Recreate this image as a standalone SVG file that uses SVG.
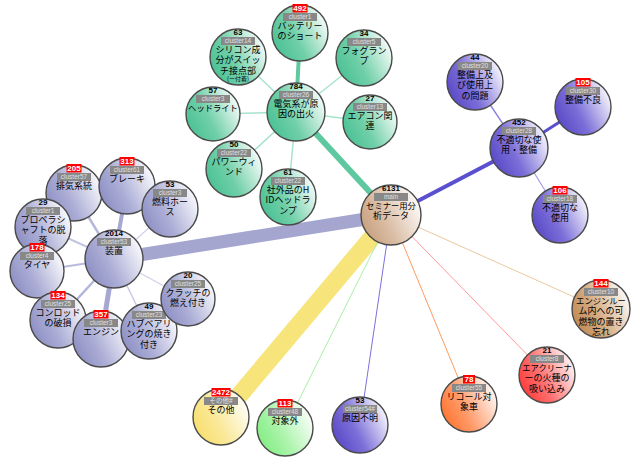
<svg xmlns="http://www.w3.org/2000/svg" width="632" height="461" viewBox="0 0 632 461">
<style>
.nd{stroke:#4a4a4a;stroke-width:1.4}
.cnt{font:bold 8px "Liberation Sans",Arial,sans-serif;text-anchor:middle;fill:#000}
.cw{fill:#fff}
.rb{fill:#f00}
.cb{fill:#888}
.ct{font:6.5px "Liberation Sans","Noto Sans CJK JP",sans-serif;text-anchor:middle;fill:#e0e0e0}
.lb{font:9px "Noto Sans CJK JP",sans-serif;text-anchor:middle;fill:#000}
.n6{font-size:8.3px}
.sm{font-size:6px}
</style>
<defs>
<linearGradient id="gG" x1="0" y1="0.75" x2="1" y2="0.25"><stop offset="0" stop-color="#48c093"/><stop offset="0.4" stop-color="#6fcfa8"/><stop offset="1" stop-color="#ffffff"/></linearGradient>
<linearGradient id="gL" x1="0" y1="0.75" x2="1" y2="0.25"><stop offset="0" stop-color="#8a8cc2"/><stop offset="0.4" stop-color="#acaed6"/><stop offset="1" stop-color="#ffffff"/></linearGradient>
<linearGradient id="gP" x1="0" y1="0.75" x2="1" y2="0.25"><stop offset="0" stop-color="#5646c6"/><stop offset="0.4" stop-color="#7c6fd8"/><stop offset="1" stop-color="#ffffff"/></linearGradient>
<linearGradient id="gM" x1="0" y1="0.75" x2="1" y2="0.25"><stop offset="0" stop-color="#c69e7c"/><stop offset="0.4" stop-color="#dbbea6"/><stop offset="1" stop-color="#ffffff"/></linearGradient>
<linearGradient id="gY" x1="0" y1="0.75" x2="1" y2="0.25"><stop offset="0" stop-color="#f8df6c"/><stop offset="0.4" stop-color="#fae896"/><stop offset="1" stop-color="#ffffff"/></linearGradient>
<linearGradient id="gLG" x1="0" y1="0.75" x2="1" y2="0.25"><stop offset="0" stop-color="#80ed80"/><stop offset="0.4" stop-color="#aaf3aa"/><stop offset="1" stop-color="#ffffff"/></linearGradient>
<linearGradient id="gO" x1="0" y1="0.75" x2="1" y2="0.25"><stop offset="0" stop-color="#ff722c"/><stop offset="0.4" stop-color="#ff9c6c"/><stop offset="1" stop-color="#ffffff"/></linearGradient>
<linearGradient id="gT" x1="0" y1="0.75" x2="1" y2="0.25"><stop offset="0" stop-color="#be8850"/><stop offset="0.4" stop-color="#d4aa80"/><stop offset="1" stop-color="#ffffff"/></linearGradient>
<linearGradient id="gR" x1="0" y1="0.75" x2="1" y2="0.25"><stop offset="0" stop-color="#ff3636"/><stop offset="0.4" stop-color="#ff7070"/><stop offset="1" stop-color="#ffffff"/></linearGradient>
</defs>
<rect width="632" height="461" fill="#fff"/>
<g id="connectors" stroke-linecap="butt">
<line x1="391" y1="215" x2="114" y2="259" stroke="#a4a6cf" stroke-width="13"/>
<line x1="391" y1="215" x2="221" y2="417" stroke="#f7e57c" stroke-width="18"/>
<line x1="391" y1="215" x2="296" y2="112" stroke="#5ec9a0" stroke-width="6"/>
<line x1="391" y1="215" x2="519" y2="148" stroke="#5a4fcf" stroke-width="4"/>
<line x1="391" y1="215" x2="285" y2="428" stroke="#a8f0a8" stroke-width="1"/>
<line x1="391" y1="215" x2="360" y2="425" stroke="#7a70e0" stroke-width="1"/>
<line x1="391" y1="215" x2="469" y2="404" stroke="#ff9a60" stroke-width="1"/>
<line x1="391" y1="215" x2="547" y2="375" stroke="#ff9a9a" stroke-width="1"/>
<line x1="391" y1="215" x2="601" y2="309" stroke="#ebc8a0" stroke-width="1"/>
<line x1="296" y1="112" x2="300" y2="33" stroke="#5fc9a0" stroke-width="4"/>
<line x1="296" y1="112" x2="238" y2="57" stroke="#a8e3cc" stroke-width="1.5"/>
<line x1="296" y1="112" x2="364" y2="58" stroke="#a8e3cc" stroke-width="1.5"/>
<line x1="296" y1="112" x2="213" y2="114" stroke="#a8e3cc" stroke-width="1.5"/>
<line x1="296" y1="112" x2="370" y2="122" stroke="#a8e3cc" stroke-width="1.5"/>
<line x1="296" y1="112" x2="234" y2="169" stroke="#a8e3cc" stroke-width="1.5"/>
<line x1="296" y1="112" x2="288" y2="197" stroke="#a8e3cc" stroke-width="1.5"/>
<line x1="114" y1="259" x2="127" y2="186" stroke="#a6a8d2" stroke-width="4"/>
<line x1="114" y1="259" x2="74" y2="193" stroke="#b5b7db" stroke-width="2.5"/>
<line x1="114" y1="259" x2="170" y2="209" stroke="#cfd0ea" stroke-width="1.2"/>
<line x1="114" y1="259" x2="43" y2="227" stroke="#c2c3e3" stroke-width="2"/>
<line x1="114" y1="259" x2="37" y2="271" stroke="#b9bbde" stroke-width="2"/>
<line x1="114" y1="259" x2="58" y2="320" stroke="#b3b5da" stroke-width="2.5"/>
<line x1="114" y1="259" x2="101" y2="339" stroke="#a6a8d2" stroke-width="5"/>
<line x1="114" y1="259" x2="149" y2="331" stroke="#c8c9e6" stroke-width="1.5"/>
<line x1="114" y1="259" x2="188" y2="299" stroke="#cfd0ea" stroke-width="1.2"/>
<line x1="519" y1="148" x2="583" y2="107" stroke="#5a4fcf" stroke-width="3"/>
<line x1="519" y1="148" x2="475" y2="82" stroke="#8b82e0" stroke-width="1.5"/>
<line x1="519" y1="148" x2="560" y2="215" stroke="#a59ee8" stroke-width="1.2"/>
</g>
<g id="n_battery" transform="translate(300,33)"><circle class="nd" r="28" fill="url(#gG)"/><rect class="rb" x="-7.5" y="-29" width="15" height="8.5"/><text class="cnt cw" y="-22">492</text><rect class="cb" x="-17" y="-20" width="34" height="8"/><text class="ct" y="-13.8">cluster1</text><text class="lb" y="-4.5">バッテリー</text><text class="lb" y="6">のショート</text></g>
<g id="n_silicon" transform="translate(238,57)"><circle class="nd" r="28" fill="url(#gG)"/><text class="cnt" y="-22">63</text><rect class="cb" x="-17" y="-20" width="34" height="8"/><text class="ct" y="-13.8">cluster14</text><text class="lb" y="-4.5">シリコン成</text><text class="lb" y="6">分がスイッ</text><text class="lb" y="16.5">チ接点部</text><text class="lb sm" y="23.5">(ー付着)</text></g>
<g id="n_fog" transform="translate(364,58)"><circle class="nd" r="28" fill="url(#gG)"/><text class="cnt" y="-22">34</text><rect class="cb" x="-17" y="-20" width="34" height="8"/><text class="ct" y="-13.8">cluster5</text><text class="lb" y="-4.5">フォグラン</text><text class="lb" y="6">プ</text></g>
<g id="n_elec" transform="translate(296,112)"><circle class="nd" r="29" fill="url(#gG)"/><text class="cnt" y="-23">784</text><rect class="cb" x="-17" y="-21" width="34" height="8"/><text class="ct" y="-14.8">cluster26</text><text class="lb" y="-5.5">電気系が原</text><text class="lb" y="5">因の出火</text></g>
<g id="n_head" transform="translate(213,114)"><circle class="nd" r="27" fill="url(#gG)"/><text class="cnt" y="-21">57</text><rect class="cb" x="-17" y="-19" width="34" height="8"/><text class="ct" y="-12.8">cluster3</text><text class="lb n6" y="-3.5">ヘッドライト</text></g>
<g id="n_aircon" transform="translate(370,122)"><circle class="nd" r="27" fill="url(#gG)"/><text class="cnt" y="-21">27</text><rect class="cb" x="-17" y="-19" width="34" height="8"/><text class="ct" y="-12.8">cluster13</text><text class="lb" y="-3.5">エアコン関</text><text class="lb" y="7">連</text></g>
<g id="n_pw" transform="translate(234,169)"><circle class="nd" r="28" fill="url(#gG)"/><text class="cnt" y="-22">50</text><rect class="cb" x="-17" y="-20" width="34" height="8"/><text class="ct" y="-13.8">cluster22</text><text class="lb" y="-4.5">パワーウィ</text><text class="lb" y="6">ンド</text></g>
<g id="n_hid" transform="translate(288,197)"><circle class="nd" r="28" fill="url(#gG)"/><text class="cnt" y="-22">61</text><rect class="cb" x="-17" y="-20" width="34" height="8"/><text class="ct" y="-13.8">cluster22</text><text class="lb" y="-4.5">社外品のH</text><text class="lb" y="6">IDヘッドラ</text><text class="lb" y="16.5">ンプ</text></g>
<g id="n_exhaust" transform="translate(74,193)"><circle class="nd" r="28" fill="url(#gL)"/><rect class="rb" x="-7.5" y="-29" width="15" height="8.5"/><text class="cnt cw" y="-22">205</text><rect class="cb" x="-17" y="-20" width="34" height="8"/><text class="ct" y="-13.8">cluster57</text><text class="lb" y="-4.5">排気系統</text></g>
<g id="n_brake" transform="translate(127,186)"><circle class="nd" r="28" fill="url(#gL)"/><rect class="rb" x="-7.5" y="-29" width="15" height="8.5"/><text class="cnt cw" y="-22">313</text><rect class="cb" x="-17" y="-20" width="34" height="8"/><text class="ct" y="-13.8">cluster61</text><text class="lb" y="-4.5">ブレーキ</text></g>
<g id="n_fuel" transform="translate(170,209)"><circle class="nd" r="28" fill="url(#gL)"/><text class="cnt" y="-22">53</text><rect class="cb" x="-17" y="-20" width="34" height="8"/><text class="ct" y="-13.8">cluster3</text><text class="lb" y="-4.5">燃料ホー</text><text class="lb" y="6">ス</text></g>
<g id="n_prop" transform="translate(43,227)"><circle class="nd" r="28" fill="url(#gL)"/><text class="cnt" y="-22">29</text><rect class="cb" x="-17" y="-20" width="34" height="8"/><text class="ct" y="-13.8">cluster1</text><text class="lb" y="-4.5">プロペラシ</text><text class="lb" y="6">ャフトの脱</text><text class="lb" y="16.5">落</text></g>
<g id="n_tire" transform="translate(37,271)"><circle class="nd" r="27" fill="url(#gL)"/><rect class="rb" x="-7.5" y="-28" width="15" height="8.5"/><text class="cnt cw" y="-21">178</text><rect class="cb" x="-17" y="-19" width="34" height="8"/><text class="ct" y="-12.8">cluster4</text><text class="lb" y="-3.5">タイヤ</text></g>
<g id="n_conrod" transform="translate(58,320)"><circle class="nd" r="28" fill="url(#gL)"/><rect class="rb" x="-7.5" y="-29" width="15" height="8.5"/><text class="cnt cw" y="-22">134</text><rect class="cb" x="-17" y="-20" width="34" height="8"/><text class="ct" y="-13.8">cluster25</text><text class="lb" y="-4.5">コンロッド</text><text class="lb" y="6">の破損</text></g>
<g id="n_engine" transform="translate(101,339)"><circle class="nd" r="28" fill="url(#gL)"/><rect class="rb" x="-7.5" y="-29" width="15" height="8.5"/><text class="cnt cw" y="-22">357</text><rect class="cb" x="-17" y="-20" width="34" height="8"/><text class="ct" y="-13.8">cluster3</text><text class="lb" y="-4.5">エンジン</text></g>
<g id="n_hub" transform="translate(149,331)"><circle class="nd" r="28" fill="url(#gL)"/><text class="cnt" y="-22">49</text><rect class="cb" x="-17" y="-20" width="34" height="8"/><text class="ct" y="-13.8">cluster23</text><text class="lb" y="-4.5">ハブベアリ</text><text class="lb" y="6">ングの焼き</text><text class="lb" y="16.5">付き</text></g>
<g id="n_clutch" transform="translate(188,299)"><circle class="nd" r="27" fill="url(#gL)"/><text class="cnt" y="-21">20</text><rect class="cb" x="-17" y="-19" width="34" height="8"/><text class="ct" y="-12.8">cluster25</text><text class="lb" y="-3.5">クラッチの</text><text class="lb" y="7">燃え付き</text></g>
<g id="n_device" transform="translate(114,259)"><circle class="nd" r="29" fill="url(#gL)"/><text class="cnt" y="-23">2014</text><rect class="cb" x="-17" y="-21" width="34" height="8"/><text class="ct" y="-14.8">cluster53</text><text class="lb" y="-5.5">装置</text></g>
<g id="n_maint_use" transform="translate(475,82)"><circle class="nd" r="28" fill="url(#gP)"/><text class="cnt" y="-22">44</text><rect class="cb" x="-17" y="-20" width="34" height="8"/><text class="ct" y="-13.8">cluster20</text><text class="lb" y="-4.5">整備上及</text><text class="lb" y="6">び使用上</text><text class="lb" y="16.5">の問題</text></g>
<g id="n_maint" transform="translate(583,107)"><circle class="nd" r="28" fill="url(#gP)"/><rect class="rb" x="-7.5" y="-29" width="15" height="8.5"/><text class="cnt cw" y="-22">105</text><rect class="cb" x="-17" y="-20" width="34" height="8"/><text class="ct" y="-13.8">cluster30</text><text class="lb" y="-4.5">整備不良</text></g>
<g id="n_misuse_all" transform="translate(519,148)"><circle class="nd" r="29" fill="url(#gP)"/><text class="cnt" y="-23">452</text><rect class="cb" x="-17" y="-21" width="34" height="8"/><text class="ct" y="-14.8">cluster28</text><text class="lb" y="-5.5">不適切な使</text><text class="lb" y="5">用・整備</text></g>
<g id="n_misuse" transform="translate(560,215)"><circle class="nd" r="28" fill="url(#gP)"/><rect class="rb" x="-7.5" y="-29" width="15" height="8.5"/><text class="cnt cw" y="-22">106</text><rect class="cb" x="-17" y="-20" width="34" height="8"/><text class="ct" y="-13.8">cluster18</text><text class="lb" y="-4.5">不適切な</text><text class="lb" y="6">使用</text></g>
<g id="n_main" transform="translate(391,215)"><circle class="nd" r="30" fill="url(#gM)"/><text class="cnt" y="-24">6131</text><rect class="cb" x="-17" y="-22" width="34" height="8"/><text class="ct" y="-15.8">main</text><text class="lb n6" y="-6.5">セミナー用分</text><text class="lb" y="4">析データ</text></g>
<g id="n_other" transform="translate(221,417)"><circle class="nd" r="28" fill="url(#gY)"/><rect class="rb" x="-9.5" y="-29" width="19" height="8.5"/><text class="cnt cw" y="-22">2472</text><rect class="cb" x="-17" y="-20" width="34" height="8"/><text class="ct" y="-13.8">その他#</text><text class="lb" y="-4.5">その他</text></g>
<g id="n_excluded" transform="translate(285,428)"><circle class="nd" r="28" fill="url(#gLG)"/><rect class="rb" x="-7.5" y="-29" width="15" height="8.5"/><text class="cnt cw" y="-22">113</text><rect class="cb" x="-17" y="-20" width="34" height="8"/><text class="ct" y="-13.8">cluster48</text><text class="lb" y="-4.5">対象外</text></g>
<g id="n_unknown" transform="translate(360,425)"><circle class="nd" r="28" fill="url(#gP)"/><text class="cnt" y="-22">53</text><rect class="cb" x="-17" y="-20" width="34" height="8"/><text class="ct" y="-13.8">cluster54#</text><text class="lb" y="-4.5">原因不明</text></g>
<g id="n_recall" transform="translate(469,404)"><circle class="nd" r="28" fill="url(#gO)"/><rect class="rb" x="-6" y="-29" width="12" height="8.5"/><text class="cnt cw" y="-22">78</text><rect class="cb" x="-17" y="-20" width="34" height="8"/><text class="ct" y="-13.8">cluster55</text><text class="lb" y="-4.5">リコール対</text><text class="lb" y="6">象車</text></g>
<g id="n_engroom" transform="translate(601,309)"><circle class="nd" r="29" fill="url(#gT)"/><rect class="rb" x="-7.5" y="-30" width="15" height="8.5"/><text class="cnt cw" y="-23">144</text><rect class="cb" x="-17" y="-21" width="34" height="8"/><text class="ct" y="-14.8">cluster10</text><text class="lb n6" y="-5.5">エンジンルー</text><text class="lb" y="5">ム内への可</text><text class="lb" y="15.5">燃物の置き</text><text class="lb" y="26">忘れ</text></g>
<g id="n_aircleaner" transform="translate(547,375)"><circle class="nd" r="28" fill="url(#gR)"/><text class="cnt" y="-22">21</text><rect class="cb" x="-17" y="-20" width="34" height="8"/><text class="ct" y="-13.8">cluster8</text><text class="lb n6" y="-4.5">エアクリーナ</text><text class="lb" y="6">ーの火種の</text><text class="lb" y="16.5">吸い込み</text></g>
</svg>
